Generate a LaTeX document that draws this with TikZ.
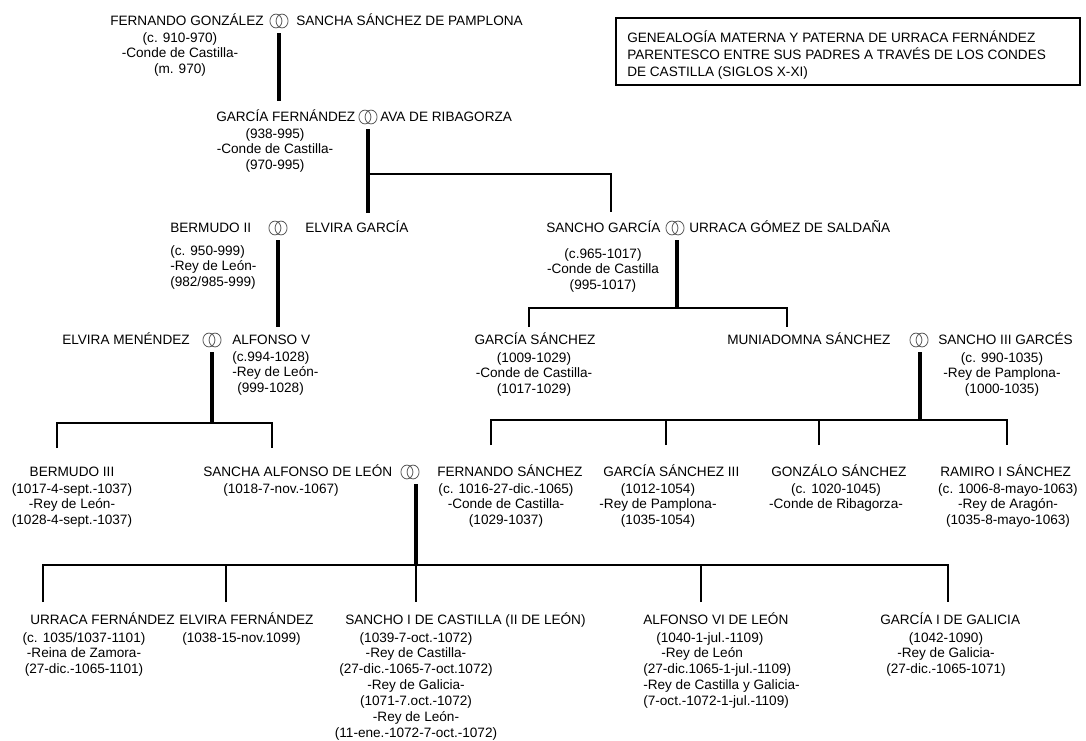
\documentclass[tikz,border=0pt]{standalone}
\usepackage{fontspec}
\setmainfont{Liberation Sans}
\definecolor{ringc}{HTML}{5A5A5A}
\begin{document}
\begin{tikzpicture}[x=0.75pt,y=-0.75pt,
  every node/.style={inner sep=0pt, font=\fontsize{10.2pt}{11.9pt}\selectfont},
  nm/.style={anchor=west, text height=7.4pt, text depth=0pt},
  nmc/.style={anchor=center, text height=7.4pt, text depth=0pt},
  info/.style={anchor=north, yshift=3.75pt, align=center, execute at begin node={\rule{0pt}{7.45pt}}},
  infol/.style={anchor=north west, yshift=3.75pt, align=left, execute at begin node={\rule{0pt}{7.45pt}}},
  rings/.style={minimum width=15pt, minimum height=11.6pt, path picture={
     \draw[ringc, line width=0.6pt] ([xshift=-2.3pt]path picture bounding box.center) ellipse [x radius=4.5pt, y radius=5.2pt];
     \draw[ringc, line width=0.6pt] ([xshift=2.3pt]path picture bounding box.center) ellipse [x radius=4.5pt, y radius=5.2pt];}},
  thickln/.style={line width=3.3pt},
  thinln/.style={line width=1.6pt},
]
\fill[white] (0,0) rectangle (1086,740);
\useasboundingbox (0,0) rectangle (1086,740);

% title box
\node[draw, line width=1.5pt, anchor=north west, minimum width=348pt, minimum height=50.25pt] (box) at (615,17) {};
\node[infol, font=\fontsize{10.2pt}{12.75pt}\selectfont] (ttl) at (627,35)
  {GENEALOGÍA MATERNA Y PATERNA DE URRACA FERNÁNDEZ\\PARENTESCO ENTRE SUS PADRES A TRAVÉS DE LOS CONDES\\DE CASTILLA (SIGLOS X-XI)};

% generation 1
\node[nm] (fg) at (110,21) {FERNANDO GONZÁLEZ};
\node[rings] (r1) at (279,21) {};
\node[nm] (ssp) at (296,21) {SANCHA SÁNCHEZ DE PAMPLONA};
\node[info] (fgd) at (180,37) {(c. 910-970)\\-Conde de Castilla-\\(m. 970)};

% generation 2
\node[nm] (gf) at (216,117) {GARCÍA FERNÁNDEZ};
\node[rings] (r2) at (368,117) {};
\node[nm] (ava) at (380,117) {AVA DE RIBAGORZA};
\node[info] (gfd) at (275,133) {(938-995)\\-Conde de Castilla-\\(970-995)};

% generation 3
\node[nm] (b2) at (170,228) {BERMUDO II};
\node[rings] (r3) at (278,228) {};
\node[nm] (elv) at (305,228) {ELVIRA GARCÍA};
\node[infol] (b2d) at (170,250) {(c. 950-999)\\-Rey de León-\\(982/985-999)};

\node[nm] (sg) at (546,228) {SANCHO GARCÍA};
\node[rings] (r4) at (675,228) {};
\node[nm] (ugs) at (689,228) {URRACA GÓMEZ DE SALDAÑA};
\node[info] (sgd) at (603,253) {(c.965-1017)\\-Conde de Castilla\\(995-1017)};

% generation 4
\node[nm] (em) at (62,340) {ELVIRA MENÉNDEZ};
\node[rings] (r5) at (212,340) {};
\node[nm] (alf) at (232,340) {ALFONSO V};
\node[infol] (alfd) at (232,356) {(c.994-1028)\\-Rey de León-\\\hspace*{3.75pt}(999-1028)};

\node[nmc] (gs) at (535,340) {GARCÍA SÁNCHEZ};
\node[info] (gsd) at (534,357) {(1009-1029)\\-Conde de Castilla-\\(1017-1029)};

\node[nm] (mun) at (727,340) {MUNIADOMNA SÁNCHEZ};
\node[rings] (r6) at (919,340) {};
\node[nm] (s3) at (938,340) {SANCHO III GARCÉS};
\node[info] (s3d) at (1002,357) {(c. 990-1035)\\-Rey de Pamplona-\\(1000-1035)};

% generation 5
\node[nmc] (b3) at (72,472) {BERMUDO III};
\node[info] (b3d) at (72,488) {(1017-4-sept.-1037)\\-Rey de León-\\(1028-4-sept.-1037)};
\node[nm] (sal) at (203,472) {SANCHA ALFONSO DE LEÓN};
\node[info] (sald) at (281,488) {(1018-7-nov.-1067)};
\node[rings] (r7) at (410,472) {};
\node[nm] (fs) at (437,472) {FERNANDO SÁNCHEZ};
\node[info] (fsd) at (506,488) {(c. 1016-27-dic.-1065)\\-Conde de Castilla-\\(1029-1037)};
\node[nm] (gs3) at (603,472) {GARCÍA SÁNCHEZ III};
\node[info] (gs3d) at (658,488) {(1012-1054)\\-Rey de Pamplona-\\(1035-1054)};
\node[nm] (gz) at (771,472) {GONZÁLO SÁNCHEZ};
\node[info] (gzd) at (836,488) {(c. 1020-1045)\\-Conde de Ribagorza-};
\node[nm] (ram) at (940,472) {RAMIRO I SÁNCHEZ};
\node[info] (ramd) at (1008,488) {(c. 1006-8-mayo-1063)\\-Rey de Aragón-\\(1035-8-mayo-1063)};

% generation 6
\node[nm] (ur) at (30,620) {URRACA FERNÁNDEZ};
\node[info] (urd) at (84,637) {(c. 1035/1037-1101)\\-Reina de Zamora-\\(27-dic.-1065-1101)};
\node[nm] (ef) at (179,620) {ELVIRA FERNÁNDEZ};
\node[infol] (efd) at (182,637) {(1038-15-nov.1099)};
\node[nm] (sc) at (345,620) {SANCHO I DE CASTILLA (II DE LEÓN)};
\node[info] (scd) at (416,637) {(1039-7-oct.-1072)\\-Rey de Castilla-\\(27-dic.-1065-7-oct.1072)\\-Rey de Galicia-\\(1071-7.oct.-1072)\\-Rey de León-\\(11-ene.-1072-7-oct.-1072)};
\node[nm] (a6) at (643,620) {ALFONSO VI DE LEÓN};
\node[infol] (a6d) at (643,637) {\hspace*{9.75pt}(1040-1-jul.-1109)\\\hspace*{13.5pt}-Rey de León\\(27-dic.1065-1-jul.-1109)\\-Rey de Castilla y Galicia-\\(7-oct.-1072-1-jul.-1109)};
\node[nm] (g1) at (880,620) {GARCÍA I DE GALICIA};
\node[info] (g1d) at (946,637) {(1042-1090)\\-Rey de Galicia-\\(27-dic.-1065-1071)};

% descent lines
\draw[thickln, shorten <=3pt, shorten >=8pt] (r1.south) -- (r1.south |- gf.north);
\draw[thickln, shorten <=3pt, shorten >=7.5pt] (r2.south) -- (r2.south |- elv.north);
\coordinate (j2) at (368,174);
\coordinate (t2) at (611,212);
\draw[thinln] (j2) -| (t2);
\draw[thickln, shorten <=3pt, shorten >=6pt] (r3.south) -- (r3.south |- alf.north);

\coordinate (j4) at (677,308);
\coordinate (k4a) at (529,327);
\coordinate (k4b) at (787,327);
\draw[thickln, shorten <=3pt] (r4.south -| j4) -- (j4);
\draw[thinln] (k4a) |- (j4) -| (k4b);

\coordinate (j5) at (212,423);
\coordinate (k5a) at (57,448);
\coordinate (k5b) at (272,448);
\draw[thickln, shorten <=3pt] (r5.south) -- (j5);
\draw[thinln] (k5a) |- (j5) -| (k5b);

\coordinate (j6) at (920,420);
\coordinate (k6a) at (491,445);
\coordinate (k6b) at (666,445);
\coordinate (k6c) at (819,445);
\coordinate (k6d) at (1007,445);
\draw[thickln, shorten <=3pt] (r6.south -| j6) -- (j6);
\draw[thinln] (k6a) |- (j6) -| (k6d);
\draw[thinln] (k6b) -- (k6b |- j6);
\draw[thinln] (k6c) -- (k6c |- j6);

\coordinate (j7) at (416,565);
\coordinate (k7a) at (43,602);
\coordinate (k7b) at (226,602);
\coordinate (k7c) at (416,602);
\coordinate (k7d) at (701,602);
\coordinate (k7e) at (948,602);
\draw[thickln, shorten <=3pt] (r7.south -| j7) -- (j7);
\draw[thinln] (k7a) |- (j7) -| (k7e);
\draw[thinln] (j7) -- (k7c);
\draw[thinln] (k7b) -- (k7b |- j7);
\draw[thinln] (k7d) -- (k7d |- j7);
\end{tikzpicture}
\end{document}
